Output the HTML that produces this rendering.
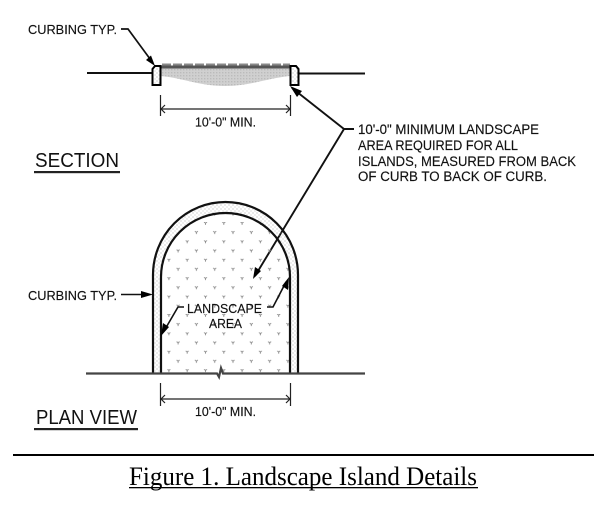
<!DOCTYPE html>
<html><head><meta charset="utf-8"><style>
html,body{margin:0;padding:0;background:#fff;width:616px;height:511px;overflow:hidden}
svg{display:block}
text{font-family:"Liberation Sans",sans-serif;fill:#111}
</style></head><body>
<svg width="616" height="511" viewBox="0 0 616 511" xmlns="http://www.w3.org/2000/svg">
<defs>
<pattern id="lm" x="203" y="222" width="18.3" height="18.4" patternUnits="userSpaceOnUse">
<path d="M1 0l1.500 1.200L4 0M2.500 1.200V2.800" fill="none" stroke="#888" stroke-width=".9"/>
<path d="M10.200 9.200l1.500 1.200 1.500-1.200M11.700 10.400V12" fill="none" stroke="#888" stroke-width=".9"/>
</pattern>
<pattern id="sp" width="4" height="4" patternUnits="userSpaceOnUse">
<circle cx="1" cy="1" r=".55" fill="#999"/><circle cx="3" cy="3" r=".5" fill="#aaa"/>
</pattern>
<pattern id="gr" width="3" height="3" patternUnits="userSpaceOnUse">
<rect width="3" height="3" fill="#d0d0d0"/><rect width="1.400" height="1.400" fill="#bbb"/>
</pattern>
<clipPath id="ins"><path d="M161 373V277A64.500 64 0 0 1 290 277V373Z"/></clipPath>
</defs>

<!-- SECTION -->
<path d="M161 68H290V76C268 78 250 86 225 86C200 86 182 78 161 76Z" fill="url(#gr)"/>
<rect x="161" y="65.500" width="129" height="3" fill="#555"/>
<path d="M162 64.500H290" stroke="#888" stroke-width="2" stroke-dasharray="9 2"/>
<path d="M87 73H152M299 73.500H365" stroke="#111" stroke-width="2" fill="none"/>
<path d="M152.500 85V69L155 66H160.500V85Z" fill="url(#sp)" stroke="#000" stroke-width="2"/>
<path d="M290.500 85V66H296L298.500 69V85Z" fill="url(#sp)" stroke="#000" stroke-width="2"/>

<text x="28" y="34" font-size="13" stroke="#111" stroke-width=".15" textLength="89" lengthAdjust="spacingAndGlyphs">CURBING TYP.</text>
<path d="M121 29H128L153 63" stroke="#111" stroke-width="1.700" fill="none"/>
<path d="M155 66L146 60L151 55.500Z" fill="#000"/>

<path d="M160.500 95V116M290.500 95V116M161 109H290" stroke="#222" stroke-width="1.200" fill="none"/>
<path d="M165 105L161 109L165 113M286 105L290 109L286 113" stroke="#222" stroke-width="1.200" fill="none"/>
<text x="195" y="126.500" font-size="13" stroke="#111" stroke-width=".15" textLength="61" lengthAdjust="spacingAndGlyphs">10'-0" MIN.</text>

<text x="35" y="167" font-size="20" textLength="84" lengthAdjust="spacingAndGlyphs">SECTION</text>
<rect x="34" y="171" width="86" height="2.200" fill="#222"/>

<!-- Note -->
<path d="M292 88L344 129H354M344 129L255 276" stroke="#111" stroke-width="1.900" fill="none"/>
<path d="M290 86L302 91L297 97Z" fill="#000"/>
<path d="M253 279L255 267L261 271Z" fill="#000"/>
<text x="358" y="134" font-size="13.500" stroke="#111" stroke-width=".15" textLength="181" lengthAdjust="spacingAndGlyphs">10'-0" MINIMUM LANDSCAPE</text>
<text x="358" y="150" font-size="13.500" stroke="#111" stroke-width=".15" textLength="160" lengthAdjust="spacingAndGlyphs">AREA REQUIRED FOR ALL</text>
<text x="358" y="166" font-size="13.500" stroke="#111" stroke-width=".15" textLength="218" lengthAdjust="spacingAndGlyphs">ISLANDS, MEASURED FROM BACK</text>
<text x="358" y="181" font-size="13.500" stroke="#111" stroke-width=".15" textLength="189" lengthAdjust="spacingAndGlyphs">OF CURB TO BACK OF CURB.</text>

<!-- PLAN -->
<path d="M153 373V275A72.500 73 0 0 1 298 275V373H290V277A64.500 64 0 0 0 161 277V373Z" fill="url(#sp)"/>
<rect x="161" y="205" width="129" height="168" fill="url(#lm)" clip-path="url(#ins)"/>
<path d="M153 373V275A72.500 73 0 0 1 298 275V373" fill="none" stroke="#111" stroke-width="2.200"/>
<path d="M161 373V277A64.500 64 0 0 1 290 277V373" fill="none" stroke="#111" stroke-width="2.200"/>
<path d="M86 373.500H217L219 377L221 368L223 373.500H365" fill="none" stroke="#444" stroke-width="2.200"/>

<text x="28" y="300" font-size="13" stroke="#111" stroke-width=".15" textLength="89" lengthAdjust="spacingAndGlyphs">CURBING TYP.</text>
<path d="M121 294.500H146" stroke="#111" stroke-width="1.500"/>
<path d="M153 294.500L141 291V298Z" fill="#000"/>

<text x="187" y="313" font-size="13" stroke="#111" stroke-width=".15" textLength="75" lengthAdjust="spacingAndGlyphs">LANDSCAPE</text>
<text x="209" y="328" font-size="13" stroke="#111" stroke-width=".15" textLength="33" lengthAdjust="spacingAndGlyphs">AREA</text>
<path d="M184 307H178L164 331" stroke="#111" stroke-width="1.600" fill="none"/>
<path d="M161 336L163 323L169 327Z" fill="#000"/>
<path d="M267 307H273L286 282" stroke="#111" stroke-width="1.600" fill="none"/>
<path d="M289 277L288 290L282 286Z" fill="#000"/>

<path d="M160.500 383V406M290.500 383V406M161 399H290" stroke="#222" stroke-width="1.200" fill="none"/>
<path d="M165 395L161 399L165 403M286 395L290 399L286 403" stroke="#222" stroke-width="1.200" fill="none"/>
<text x="195" y="416" font-size="12.500" stroke="#111" stroke-width=".15" textLength="61" lengthAdjust="spacingAndGlyphs">10'-0" MIN.</text>

<text x="36" y="424" font-size="20" textLength="101" lengthAdjust="spacingAndGlyphs">PLAN VIEW</text>
<rect x="34" y="428" width="104" height="2.200" fill="#222"/>

<!-- Caption -->
<rect x="13" y="454" width="581" height="2" fill="#000"/>
<text x="129" y="485" font-size="26" textLength="348" lengthAdjust="spacingAndGlyphs" style="font-family:'Liberation Serif',serif;fill:#000">Figure 1. Landscape Island Details</text>
<rect x="129" y="487" width="349" height="1.300" fill="#000"/>
</svg>
</body></html>
